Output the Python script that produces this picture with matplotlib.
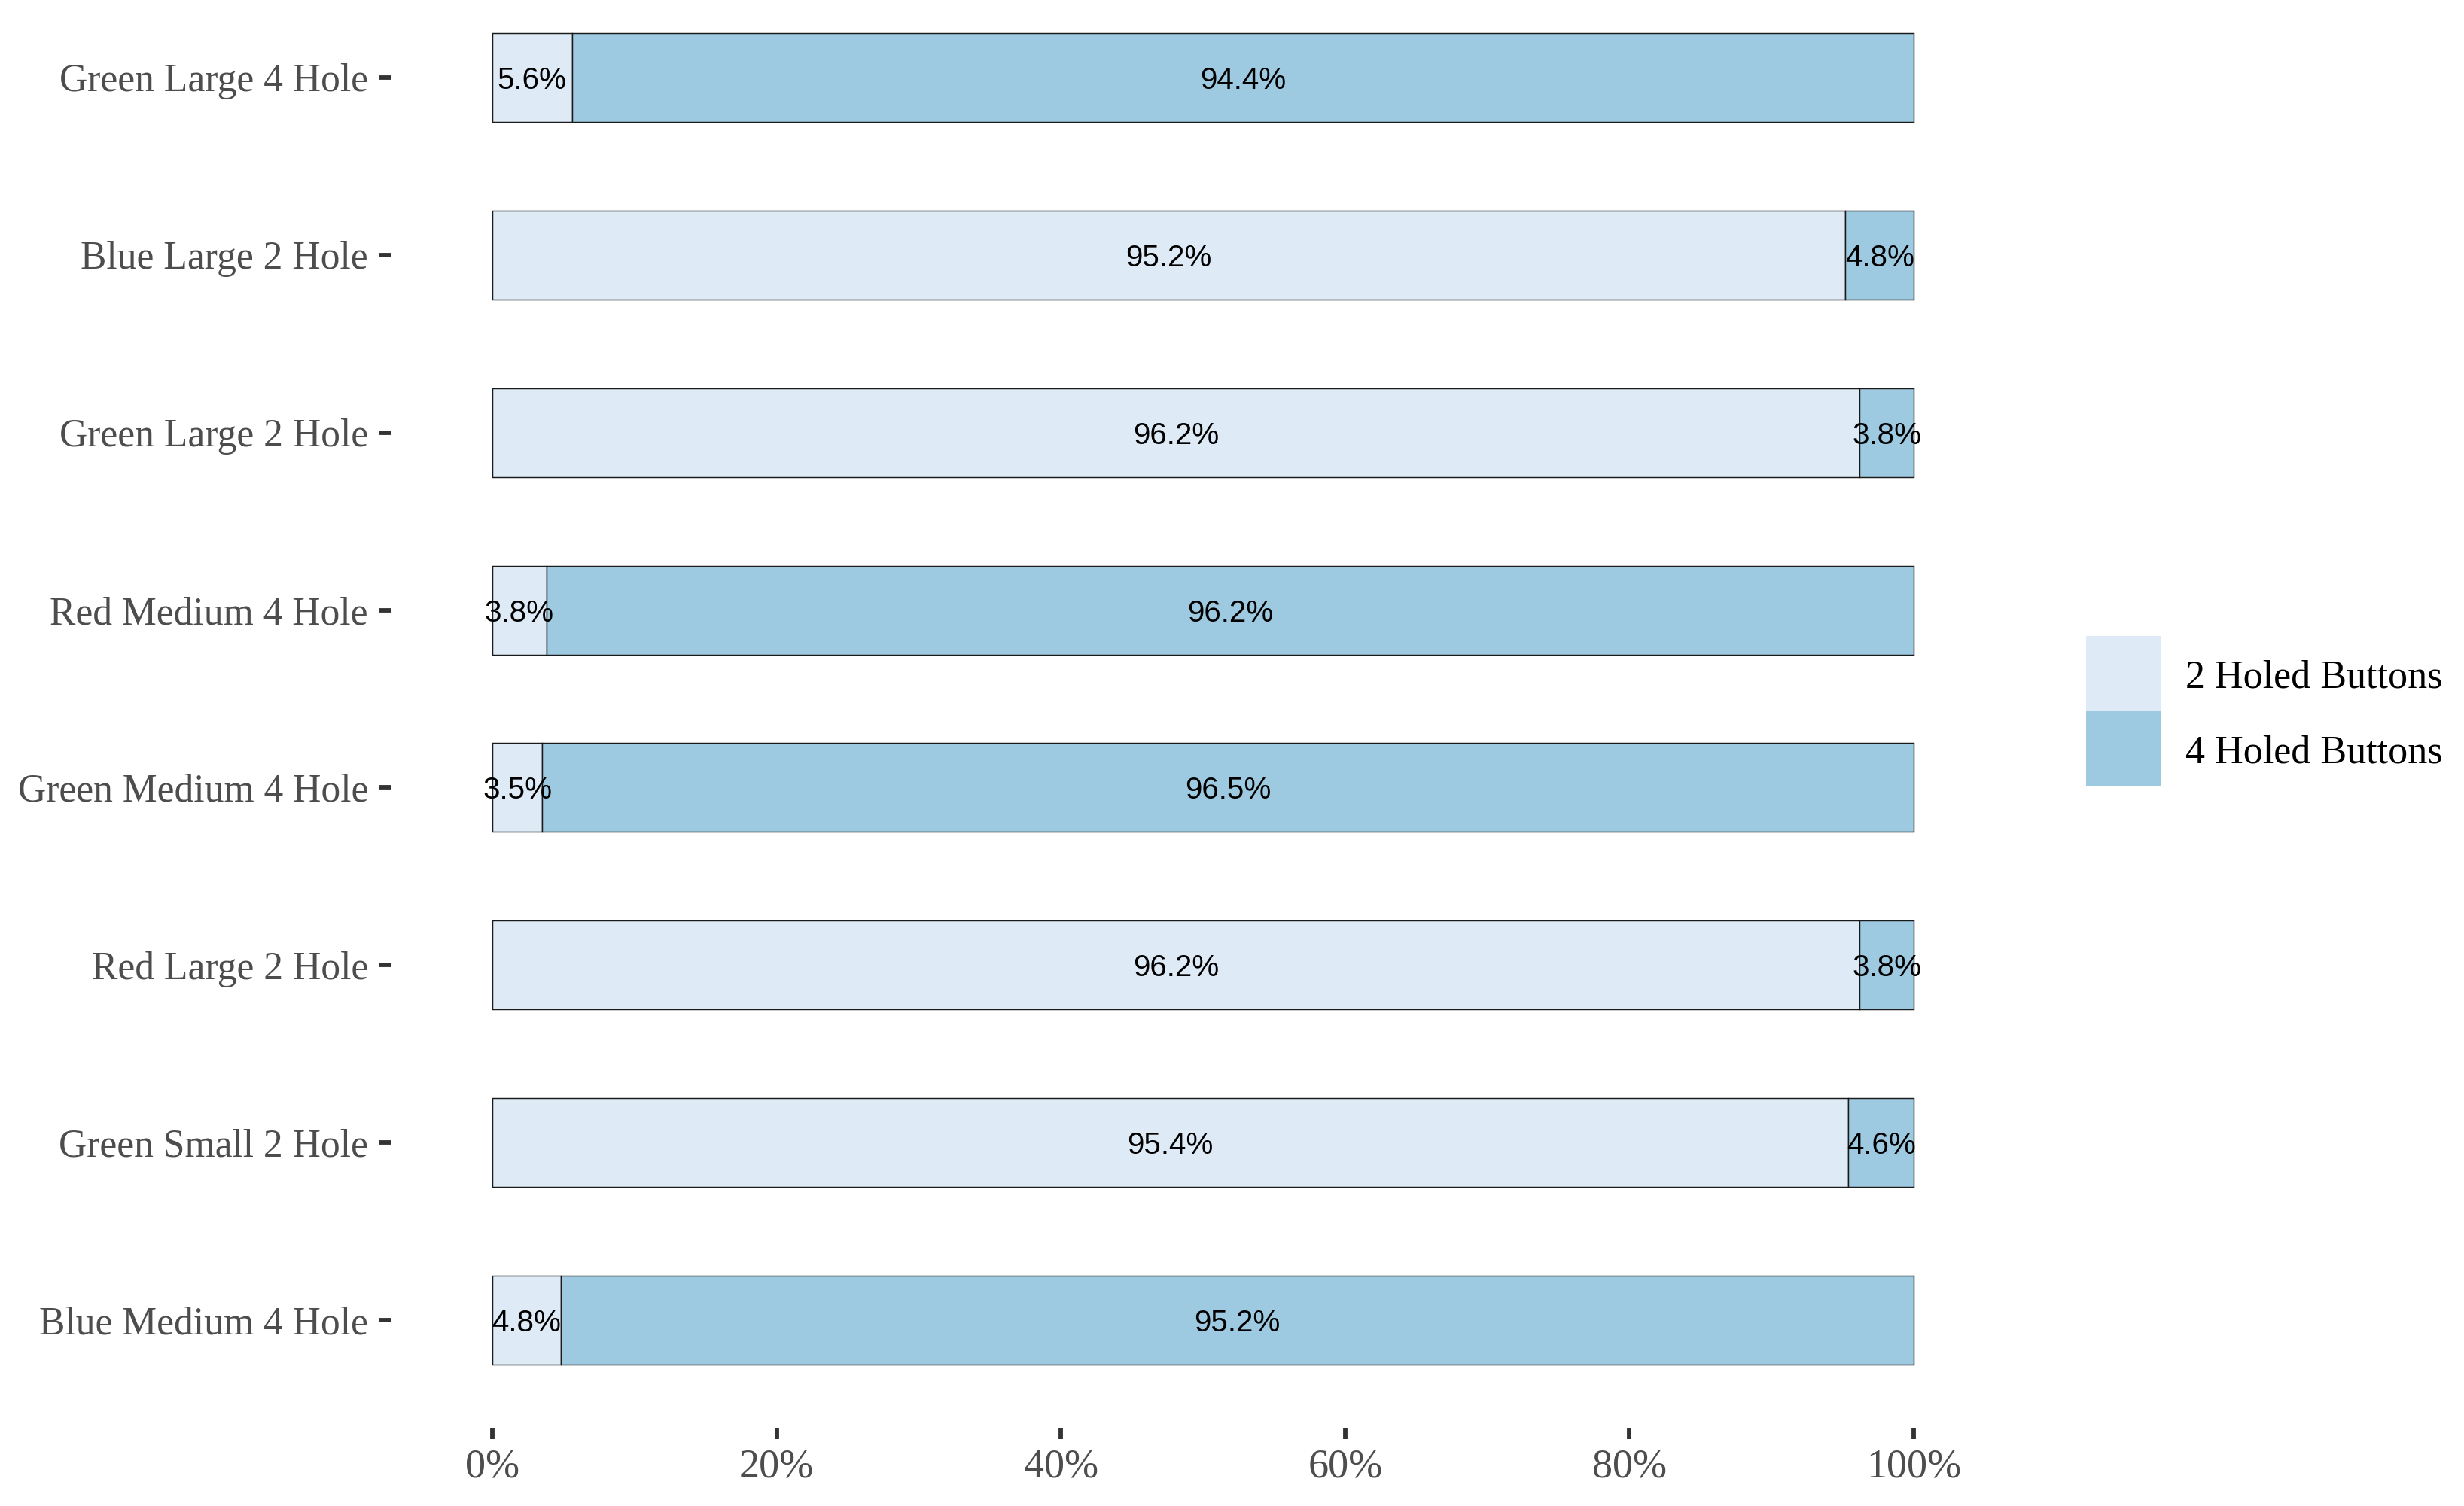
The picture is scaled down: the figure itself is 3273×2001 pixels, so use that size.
import matplotlib
matplotlib.use("Agg")
import matplotlib.pyplot as plt
import matplotlib.patches as mpatches
import numpy as np

# data, top row first
categories = ["Green Large 4 Hole", "Blue Large 2 Hole", "Green Large 2 Hole",
              "Red Medium 4 Hole", "Green Medium 4 Hole", "Red Large 2 Hole",
              "Green Small 2 Hole", "Blue Medium 4 Hole"]
two_hole = [5.6, 95.2, 96.2, 3.8, 3.5, 96.2, 95.4, 4.8]
four_hole = [94.4, 4.8, 3.8, 96.2, 96.5, 3.8, 4.6, 95.2]
series_names = ["2 Holed Buttons", "4 Holed Buttons"]
x_ticks = [0, 20, 40, 60, 80, 100]
x_ticklabels = ["0%", "20%", "40%", "60%", "80%", "100%"]

light = "#deebf7"
dark = "#9ecae1"
W, H = 3273, 2001
dpi = 300

plt.rcParams['font.family'] = ['Liberation Serif', 'DejaVu Serif']

fig = plt.figure(figsize=(W / dpi, H / dpi), dpi=dpi)
ax = fig.add_axes([519 / W, 1 - 1897 / H, (2677 - 519) / W, 1897 / H])

n = len(categories)
y = np.arange(n)[::-1]  # top category at the top
two = np.array(two_hole)
four = np.array(four_hole)

ax.barh(y, two, height=0.5, color=light, edgecolor="#1a1a1a", linewidth=0.35)
ax.barh(y, four, left=two, height=0.5, color=dark, edgecolor="#1a1a1a", linewidth=0.35)

sans = ["Liberation Sans", "DejaVu Sans"]
for yi, a, b in zip(y, two, four):
    ax.text(a / 2, yi, f"{a:.1f}%", ha="center", va="center_baseline",
            fontsize=9.7, family=sans, color="black")
    ax.text(a + b / 2, yi, f"{b:.1f}%", ha="center", va="center_baseline",
            fontsize=9.7, family=sans, color="black")

ax.set_xlim(-7.15, 107.15)
ax.set_ylim(-0.606, 7 + 103 / 235.9)
ax.set_yticks(y)
ax.set_yticklabels(categories)
ax.set_xticks(x_ticks)
ax.set_xticklabels(x_ticklabels)
ax.tick_params(axis="both", length=3.6, width=1.4, color="#333333",
               labelcolor="#4d4d4d", labelsize=13.0)
ax.tick_params(axis="y", pad=3.6, labelsize=12.4)
ax.tick_params(axis="x", pad=2.9)
for s in ax.spines.values():
    s.set_visible(False)

# legend keys drawn by hand so the two boxes touch like the original
for i, (name, col) in enumerate(zip(series_names, [light, dark])):
    top = 845 + i * 100
    fig.add_artist(mpatches.Rectangle((2771 / W, 1 - (top + 100) / H), 100 / W, 100 / H,
                                      transform=fig.transFigure, facecolor=col,
                                      edgecolor="none"))
    fig.text(2903 / W, 1 - (top + 56) / H, name, ha="left", va="center",
             fontsize=12.5, color="black")

fig.savefig("out.png", dpi=dpi, facecolor="white")
